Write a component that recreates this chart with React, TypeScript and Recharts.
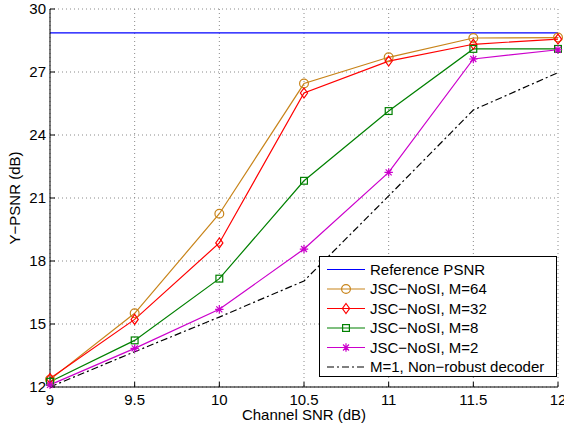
import React from 'react';
import { LineChart, Line, XAxis, YAxis, CartesianGrid, Legend, Label } from 'recharts';

const snr = [9, 9.5, 10, 10.5, 11, 11.5, 12];
const refPsnr = [28.86, 28.86, 28.86, 28.86, 28.86, 28.86, 28.86];
const m64 = [12.35, 15.51, 20.25, 26.45, 27.7, 28.62, 28.64];
const m32 = [12.4, 15.22, 18.86, 26.0, 27.52, 28.32, 28.57];
const m8 = [12.25, 14.22, 17.16, 21.82, 25.14, 28.1, 28.1];
const m2 = [12.1, 13.84, 15.7, 18.57, 22.22, 27.62, 28.06];
const m1 = [12.0, 13.68, 15.33, 17.05, 21.1, 25.19, 26.97];

const xTicks = [9, 9.5, 10, 10.5, 11, 11.5, 12];
const yTicks = [12, 15, 18, 21, 24, 27, 30];

const seriesNames = [
  'Reference PSNR',
  'JSC\u2212NoSI, M=64',
  'JSC\u2212NoSI, M=32',
  'JSC\u2212NoSI, M=8',
  'JSC\u2212NoSI, M=2',
  'M=1, Non\u2212robust decoder',
];

const data = snr.map((x, i) => ({
  snr: x,
  ref: refPsnr[i],
  m64: m64[i],
  m32: m32[i],
  m8: m8[i],
  m2: m2[i],
  m1: m1[i],
}));

const FONT = '"Liberation Sans", Arial, Helvetica, sans-serif';

type SeriesCfg = { key: string; name: string; color: string; marker: string | null; dash?: string };

const series: SeriesCfg[] = [
  { key: 'ref', name: seriesNames[0], color: '#0000ff', marker: null },
  { key: 'm64', name: seriesNames[1], color: '#c8841a', marker: 'circle' },
  { key: 'm32', name: seriesNames[2], color: '#ff0000', marker: 'diamond' },
  { key: 'm8', name: seriesNames[3], color: '#008000', marker: 'square' },
  { key: 'm2', name: seriesNames[4], color: '#cc00cc', marker: 'star' },
  { key: 'm1', name: seriesNames[5], color: '#000000', marker: null, dash: '7 3 2 3' },
];

function Marker({ type, cx, cy, color }: { type: string | null; cx: number; cy: number; color: string }) {
  const sw = 1.2;
  if (type === 'circle') return <circle cx={cx} cy={cy} r={4.4} fill="none" stroke={color} strokeWidth={sw} />;
  if (type === 'diamond')
    return (
      <polygon
        points={`${cx},${cy - 5} ${cx + 3.6},${cy} ${cx},${cy + 5} ${cx - 3.6},${cy}`}
        fill="none"
        stroke={color}
        strokeWidth={sw}
      />
    );
  if (type === 'square')
    return <rect x={cx - 3.4} y={cy - 3.4} width={6.8} height={6.8} fill="none" stroke={color} strokeWidth={sw} />;
  if (type === 'star')
    return (
      <path
        d={`M${cx - 4.2} ${cy}H${cx + 4.2}M${cx} ${cy - 4.2}V${cy + 4.2}M${cx - 3} ${cy - 3}L${cx + 3} ${cy + 3}M${cx - 3} ${cy + 3}L${cx + 3} ${cy - 3}`}
        fill="none"
        stroke={color}
        strokeWidth={sw}
      />
    );
  return null;
}

const LegendBox = () => {
  const w = 238;
  const h = 121;
  return (
    <svg width={w} height={h} style={{ display: 'block' }}>
      <rect x={0.5} y={0.5} width={w - 1} height={h - 1} fill="#ffffff" stroke="#000000" strokeWidth={1} />
      {series.map((s, i) => {
        const cy = 13.5 + i * 19.5;
        return (
          <g key={s.key}>
            <line x1={8} x2={46} y1={cy} y2={cy} stroke={s.color} strokeWidth={1.2} strokeDasharray={s.dash} />
            <Marker type={s.marker} cx={27} cy={cy} color={s.color} />
            <text x={51} y={cy + 5.3} fontFamily={FONT} fontSize={15} fill="#000">
              {s.name}
            </text>
          </g>
        );
      })}
    </svg>
  );
};

const fmtX = (v: number) => String(v);

export default function App() {
  return (
    <div style={{ position: 'absolute', left: 0, top: 0, background: '#fff' }}>
      <LineChart width={564} height={433} data={data} margin={{ top: 9, right: 6, left: 0, bottom: 0 }}>
        <CartesianGrid stroke="#8a8a8a" strokeDasharray="1 3" strokeWidth={1} />
        <XAxis
          dataKey="snr"
          type="number"
          domain={[9, 12]}
          ticks={xTicks}
          interval={0}
          tickFormatter={fmtX}
          height={46}
          axisLine={{ stroke: '#000', strokeWidth: 1 }}
          tickLine={{ stroke: '#000' }}
          tickSize={-5}
          tickMargin={12}
          tick={{ fill: '#000', fontSize: 15, fontFamily: FONT }}
        >
          <Label
            content={() => (
              <text x={304} y={420} textAnchor="middle" fontFamily={FONT} fontSize={15} fill="#000">
                Channel SNR (dB)
              </text>
            )}
          />
        </XAxis>
        <XAxis
          xAxisId="top"
          orientation="top"
          type="number"
          domain={[9, 12]}
          ticks={xTicks}
          interval={0}
          height={0}
          axisLine={{ stroke: '#000', strokeWidth: 1 }}
          tickLine={{ stroke: '#000' }}
          tickSize={-5}
          tickFormatter={() => ''}
        />
        <YAxis
          type="number"
          domain={[12, 30]}
          ticks={yTicks}
          interval={0}
          width={50}
          axisLine={{ stroke: '#000', strokeWidth: 1 }}
          tickLine={{ stroke: '#000' }}
          tickSize={-5}
          tickMargin={9}
          tick={{ fill: '#000', fontSize: 15, fontFamily: FONT }}
        >
          <Label
            content={() => (
              <text
                x={20}
                y={198}
                transform="rotate(-90 20 198)"
                textAnchor="middle"
                fontFamily={FONT}
                fontSize={15}
                fill="#000"
              >
                Y{'\u2212'}PSNR (dB)
              </text>
            )}
          />
        </YAxis>
        <YAxis
          yAxisId="right"
          orientation="right"
          type="number"
          domain={[12, 30]}
          ticks={yTicks}
          interval={0}
          width={0}
          axisLine={{ stroke: '#000', strokeWidth: 1 }}
          tickLine={{ stroke: '#000' }}
          tickSize={-5}
          tickFormatter={() => ''}
        />
        {series.map((s) => (
          <Line
            key={s.key}
            dataKey={s.key}
            name={s.name}
            stroke={s.color}
            strokeWidth={1.2}
            strokeDasharray={s.dash}
            isAnimationActive={false}
            dot={
              s.marker
                ? (p: any) => <Marker key={`${s.key}-${p.index}`} type={s.marker} cx={p.cx} cy={p.cy} color={s.color} />
                : false
            }
            activeDot={false}
          />
        ))}
        <Legend
          layout="vertical"
          align="center"
          verticalAlign="middle"
          content={() => <LegendBox />}
          wrapperStyle={{ left: 319, top: 256, width: 238, height: 121, right: 'auto', bottom: 'auto' }}
        />
      </LineChart>
    </div>
  );
}
